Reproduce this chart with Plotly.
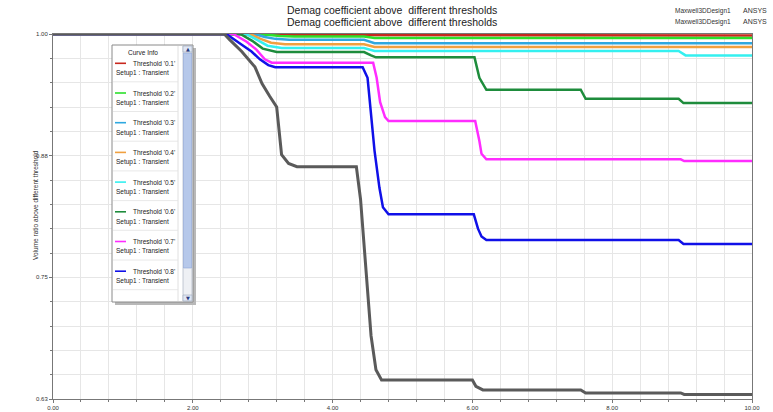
import plotly.graph_objects as go

# ---- data -------------------------------------------------------------
thresholds = ["0.1", "0.2", "0.3", "0.4", "0.5", "0.6", "0.7", "0.8", "0.9"]
colors = ["#c8281e", "#2ce02c", "#2ea8e0", "#f0a040", "#34f0f0",
          "#1e8c3c", "#ff2cff", "#1010e8", "#5a5a5a"]

t_01 = [0, 3.0, 3.2, 3.5, 4.45, 4.6, 10]
v_01 = [1.0, 1.0, 0.9995, 0.999, 0.999, 0.9985, 0.9985]

t_02 = [0, 2.94, 3.1, 3.25, 3.45, 4.45, 4.6, 10]
v_02 = [1.0, 1.0, 0.999, 0.998, 0.9975, 0.9975, 0.996, 0.996]

t_03 = [0, 2.88, 3.03, 3.18, 3.38, 4.45, 4.6, 10]
v_03 = [1.0, 1.0, 0.997, 0.995, 0.994, 0.994, 0.9905, 0.9905]

t_04 = [0, 2.82, 2.97, 3.12, 3.32, 4.45, 4.6, 10]
v_04 = [1.0, 1.0, 0.995, 0.991, 0.9895, 0.9895, 0.9866, 0.9866]

t_05 = [0, 2.76, 2.92, 3.07, 3.27, 4.45, 4.6, 8.95, 9.05, 10]
v_05 = [1.0, 1.0, 0.994, 0.988, 0.9856, 0.9856, 0.9825, 0.9825, 0.978, 0.978]

t_06 = [0, 2.68, 2.85, 3.0, 3.2, 4.45, 4.55, 4.62, 6.03, 6.1, 6.2,
        7.55, 7.62, 8.95, 9.02, 10]
v_06 = [1.0, 1.0, 0.993, 0.985, 0.9815, 0.9815, 0.978, 0.976, 0.976, 0.955,
        0.9427, 0.9427, 0.9335, 0.9335, 0.929, 0.929]

t_07 = [0, 2.58, 2.77, 2.91, 3.03, 3.13, 4.58, 4.63, 4.68, 4.75, 4.8,
        6.04, 6.1, 6.13, 6.2, 8.98, 9.03, 10]
v_07 = [1.0, 1.0, 0.992, 0.984, 0.974, 0.9705, 0.9705, 0.955, 0.93, 0.9145,
        0.9106, 0.9106, 0.89, 0.877, 0.8712, 0.8712, 0.8695, 0.8695]

t_08 = [0, 2.48, 2.68, 2.84, 2.96, 3.08, 3.18, 4.43, 4.5, 4.55, 4.6, 4.67,
        4.72, 4.8, 6.02, 6.08, 6.13, 6.2, 8.95, 9.02, 10]
v_08 = [1.0, 1.0, 0.990, 0.982, 0.974, 0.968, 0.9658, 0.9658, 0.955, 0.92,
        0.88, 0.842, 0.822, 0.8147, 0.8147, 0.80, 0.792, 0.7883, 0.7883,
        0.7842, 0.7842]

t_09 = [0, 2.45, 2.53, 2.7, 2.89, 2.99, 3.1, 3.2, 3.27, 3.37, 3.49, 4.34,
        4.4, 4.47, 4.55, 4.62, 4.7, 6.0, 6.05, 6.15, 7.55, 7.62, 8.98, 9.03, 10]
v_09 = [1.0, 1.0, 0.994, 0.982, 0.966, 0.949, 0.936, 0.925, 0.876, 0.867,
        0.8636, 0.8636, 0.83, 0.76, 0.69, 0.655, 0.6445, 0.6445, 0.638,
        0.6343, 0.6343, 0.6312, 0.6312, 0.6297, 0.6297]

times = [t_01, t_02, t_03, t_04, t_05, t_06, t_07, t_08, t_09]
values = [v_01, v_02, v_03, v_04, v_05, v_06, v_07, v_08, v_09]

x_tickvals = [0, 2, 4, 6, 8, 10]
x_ticktext = ["0.00", "2.00", "4.00", "6.00", "8.00", "10.00"]
y_tickvals = [0.625, 0.75, 0.875, 1.0]
y_ticktext = ["0.63", "0.75", "0.88", "1.00"]

title_text = "Demag coefficient above  different thresholds"
design_text = "Maxwell3DDesign1"
brand_text = "ANSYS"
y_title = "Volume ratio above different threshold"
legend_header = "Curve Info"
setup_text = "Setup1 : Transient"

# ---- geometry (page pixels) --------------------------------------------
W, H = 773, 412
L, R, T, B = 53, 21, 34, 13
PW, PH = W - L - R, H - T - B
FONT = "Liberation Sans, Arial, sans-serif"


def px(x):
    return (x - L) / PW


def py(y):
    return (H - B - y) / PH


fig = go.Figure()

for name, col, tt, vv in zip(thresholds, colors, times, values):
    fig.add_trace(go.Scatter(
        x=tt, y=vv, mode="lines", name=f"Threshold '{name}'",
        line=dict(color=col, width=3 if name == "0.9" else 2.5),
        showlegend=False, hoverinfo="skip"))

shapes = []
annotations = []

# titles (drawn twice, as the report header repeats them)
for ty in (10, 22):
    annotations.append(dict(x=px(392), y=py(ty), xref="paper", yref="paper",
                            text=title_text, showarrow=False,
                            font=dict(family=FONT, size=10.5, color="#222"),
                            xanchor="center", yanchor="middle"))
for ty in (11, 22):
    annotations.append(dict(x=px(733), y=py(ty), xref="paper", yref="paper",
                            text=design_text, showarrow=False,
                            font=dict(family=FONT, size=6.5, color="#333"),
                            xanchor="right", yanchor="middle"))
    annotations.append(dict(x=px(741), y=py(ty - 1), xref="paper", yref="paper",
                            text=brand_text, showarrow=False,
                            font=dict(family=FONT, size=7, color="#333"),
                            xanchor="left", yanchor="middle"))

# y-axis title
annotations.append(dict(x=px(35), y=py(205), xref="paper", yref="paper",
                        text=y_title, showarrow=False, textangle=-90,
                        font=dict(family=FONT, size=6.5, color="#333"),
                        xanchor="center", yanchor="middle"))

# ---- curve info panel --------------------------------------------------
bx0, bx1, by0, by1 = 112, 193, 45, 302
# shadow
shapes.append(dict(type="rect", xref="paper", yref="paper",
                   x0=px(bx0 + 3), x1=px(bx1 + 3), y0=py(by1 + 3), y1=py(by0 + 3),
                   fillcolor="#b8b8b8", line=dict(width=0), layer="above"))
shapes.append(dict(type="rect", xref="paper", yref="paper",
                   x0=px(bx0), x1=px(bx1), y0=py(by1), y1=py(by0),
                   fillcolor="white", line=dict(color="#8a8a8a", width=1),
                   layer="above"))
# scroll bar
sx0, sx1 = 183, 192
shapes.append(dict(type="rect", xref="paper", yref="paper",
                   x0=px(sx0), x1=px(sx1), y0=py(by1 - 1), y1=py(by0 + 1),
                   fillcolor="#eef0f4", line=dict(color="#a0a8b8", width=0.6),
                   layer="above"))
shapes.append(dict(type="rect", xref="paper", yref="paper",
                   x0=px(sx0 + 0.5), x1=px(sx1 - 0.5), y0=py(268), y1=py(53),
                   fillcolor="#b6c8ea", line=dict(color="#8ea6d6", width=0.6),
                   layer="above"))
for ay0, ay1, sym in [(by0 + 1, 52, "▲"), (295, by1 - 1, "▼")]:
    shapes.append(dict(type="rect", xref="paper", yref="paper",
                       x0=px(sx0), x1=px(sx1), y0=py(ay1), y1=py(ay0),
                       fillcolor="#dfe6f4", line=dict(color="#a0a8b8", width=0.6),
                       layer="above"))
    annotations.append(dict(x=px((sx0 + sx1) / 2), y=py((ay0 + ay1) / 2),
                            xref="paper", yref="paper", text=sym,
                            showarrow=False,
                            font=dict(family="DejaVu Sans", size=5, color="#2a3a80"),
                            xanchor="center", yanchor="middle"))
# inner column divider
shapes.append(dict(type="line", xref="paper", yref="paper",
                   x0=px(178), x1=px(178), y0=py(by1 - 1), y1=py(by0 + 1),
                   line=dict(color="#d8d8d8", width=0.8), layer="above"))

annotations.append(dict(x=px(143), y=py(52.5), xref="paper", yref="paper",
                        text=legend_header, showarrow=False,
                        font=dict(family=FONT, size=6.5, color="#222"),
                        xanchor="center", yanchor="middle"))

pitch = 29.7
for i, (name, col) in enumerate(zip(thresholds[:8], colors[:8])):
    ly = 63.3 + pitch * i
    shapes.append(dict(type="line", xref="paper", yref="paper",
                       x0=px(115), x1=px(126), y0=py(ly), y1=py(ly),
                       line=dict(color=col, width=1.6), layer="above"))
    annotations.append(dict(x=px(131), y=py(ly), xref="paper", yref="paper",
                            text=f"Threshold '{name}'", showarrow=False,
                            font=dict(family=FONT, size=6.5, color="#222"),
                            xanchor="left", yanchor="middle"))
    annotations.append(dict(x=px(114), y=py(ly + 10), xref="paper", yref="paper",
                            text=setup_text, showarrow=False,
                            font=dict(family=FONT, size=6.5, color="#222"),
                            xanchor="left", yanchor="middle"))
    sep = ly + 18.5
    shapes.append(dict(type="line", xref="paper", yref="paper",
                       x0=px(bx0 + 1), x1=px(178), y0=py(sep), y1=py(sep),
                       line=dict(color="#e2e2e2", width=0.8), layer="above"))

grid = "#e6e6e6"
fig.update_layout(
    width=W, height=H,
    margin=dict(l=L, r=R, t=T, b=B, autoexpand=False),
    paper_bgcolor="white", plot_bgcolor="white",
    font=dict(family=FONT, size=6, color="#333"),
    shapes=shapes, annotations=annotations,
    xaxis=dict(range=[0, 10], tickvals=x_tickvals, ticktext=x_ticktext,
               showgrid=True, gridcolor=grid, gridwidth=1, zeroline=False,
               showline=True, linecolor="#777", linewidth=1, mirror=True,
               ticks="outside", ticklen=3, tickcolor="#777",
               tickfont=dict(size=6, color="#333"), automargin=False,
               minor=dict(dtick=0.4, tick0=0, showgrid=True, gridcolor=grid,
                          ticks="outside", ticklen=2, tickcolor="#777")),
    yaxis=dict(range=[0.625, 1.0], tickvals=y_tickvals, ticktext=y_ticktext,
               showgrid=True, gridcolor=grid, gridwidth=1, zeroline=False,
               showline=True, linecolor="#777", linewidth=1, mirror=True,
               ticks="outside", ticklen=3, tickcolor="#777",
               tickfont=dict(size=6, color="#333"), automargin=False,
               minor=dict(dtick=0.025, tick0=0.625, showgrid=True,
                          gridcolor=grid, ticks="outside", ticklen=2,
                          tickcolor="#777")),
)

fig.write_html("out.html")
